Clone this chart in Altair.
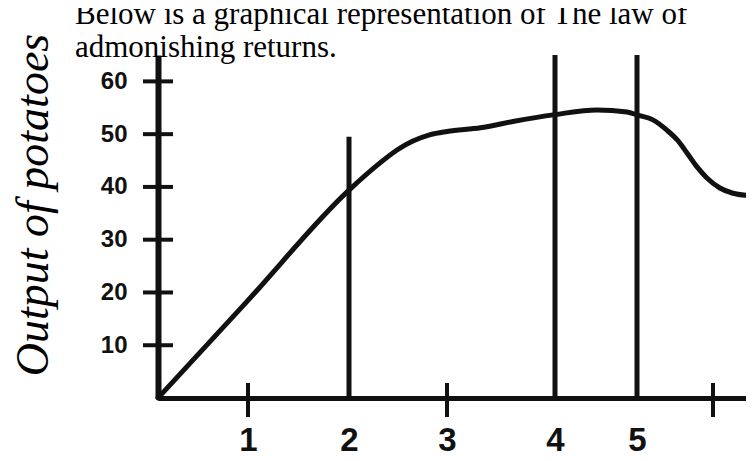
import altair as alt
import pandas as pd

# --- data ---
title_lines = ["Below is a graphical representation of The law of", "admonishing returns."]
y_axis_title = "Output of potatoes"

curve_x = [0, 1.0, 2.0, 2.32, 2.49, 2.83, 3.0, 3.31, 3.61, 4.0, 4.51, 4.88, 5.01, 5.21, 5.39, 5.53,
           5.66, 5.79, 5.92, 6.09, 6.26, 6.43]
curve_y = [0, 18.5, 39.4, 44.6, 47.0, 49.9, 50.5, 51.2, 52.4, 53.7, 54.6, 54.2, 53.6, 52.7, 50.8, 48.9,
           46.4, 43.8, 41.7, 39.8, 38.8, 38.4]

vline_x = [2, 4, 5]
vline_top = [49.5, 65, 65]

x_tick_labels = [1, 2, 3, 4, 5]
x_tick_marks = [1, 3, 6]
y_ticks = [10, 20, 30, 40, 50, 60]

# hand-drawn, uneven x axis spacing
x_domain = [0, 1, 2, 3, 4, 5, 6, 6.43]
x_range = [0, 90, 191, 289, 397, 479, 555, 588]

W, H = 588, 343
INK = "#111111"

xs = alt.Scale(domain=x_domain, range=x_range, nice=False)
ys = alt.Scale(domain=[0, 65], nice=False)

curve_df = pd.DataFrame({"x": curve_x, "y": curve_y})
vline_df = pd.DataFrame({"x": vline_x, "y0": [0] * len(vline_x), "top": vline_top})
ytick_df = pd.DataFrame({"y": y_ticks})
xtick_df = pd.DataFrame({"x": x_tick_marks})

curve = alt.Chart(curve_df).mark_line(
    color=INK, strokeWidth=5, interpolate="monotone", strokeCap="round"
).encode(
    x=alt.X("x:Q", scale=xs, axis=alt.Axis(
        values=x_tick_labels, title=None, grid=False, ticks=False, tickSize=0,
        domainColor=INK, domainWidth=5, labelFont="Liberation Sans",
        labelFontSize=33, labelFontWeight="bold", labelColor=INK,
        labelPadding=26, format="d")),
    y=alt.Y("y:Q", scale=ys, axis=alt.Axis(
        values=y_ticks, title=None, grid=False, ticks=False, tickSize=0,
        domainColor=INK, domainWidth=6, labelFont="Liberation Sans",
        labelFontSize=24, labelFontWeight="bold", labelColor=INK,
        labelPadding=31, format="d")),
)

vlines = alt.Chart(vline_df).mark_rule(color=INK, strokeWidth=5).encode(
    x=alt.X("x:Q", scale=xs),
    y=alt.Y("y0:Q", scale=ys),
    y2="top:Q",
)

yticks = alt.Chart(ytick_df).mark_rule(color=INK, strokeWidth=4).encode(
    y=alt.Y("y:Q", scale=ys),
    x=alt.value(-15),
    x2=alt.value(15),
)

xticks = alt.Chart(xtick_df).mark_rule(color=INK, strokeWidth=4).encode(
    x=alt.X("x:Q", scale=xs),
    y=alt.value(H - 15),
    y2=alt.value(H + 19),
)

title = alt.Chart(pd.DataFrame({"t": [0]})).mark_text(
    align="left", baseline="alphabetic", font="Liberation Serif",
    fontSize=31, lineHeight=33, color="#000000"
).encode(
    x=alt.value(-83), y=alt.value(-31), text=alt.value(title_lines)
)

ytitle = alt.Chart(pd.DataFrame({"t": [0]})).mark_text(
    align="center", baseline="middle", font="Liberation Serif",
    fontStyle="italic", fontSize=46, angle=270, color="#000000"
).encode(
    x=alt.value(-124), y=alt.value(150), text=alt.value(y_axis_title)
)

chart = alt.layer(vlines, yticks, xticks, curve, title, ytitle).properties(
    width=W, height=H,
    autosize=alt.AutoSizeParams(type="none"),
    padding={"left": 150, "top": 47, "right": 0, "bottom": 58},
    background="white",
).configure_view(stroke=None)

chart.save("out.html", embed_options={"renderer": "svg", "actions": False})
